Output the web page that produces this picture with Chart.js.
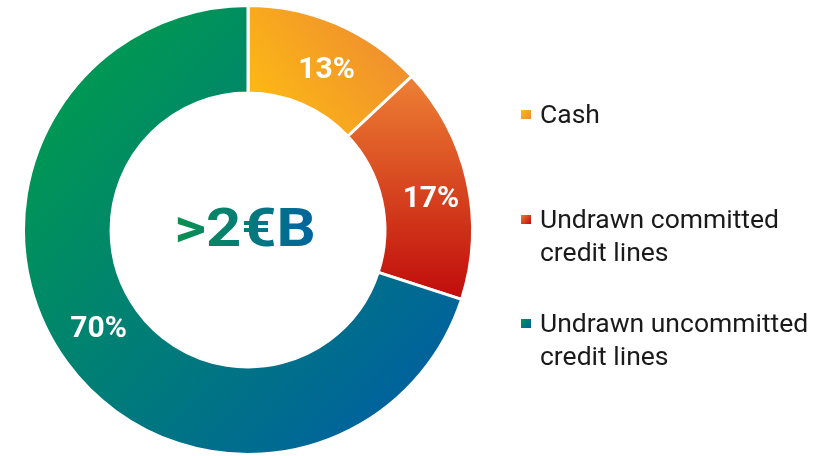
<!DOCTYPE html>
<html>
<head>
<meta charset="utf-8">
<script src="https://cdn.jsdelivr.net/npm/chart.js@4.4.1/dist/chart.umd.min.js"></script>
<style>
  html, body { margin: 0; padding: 0; background: #fff; }
  #wrap { width: 825px; height: 456px; position: relative; }
</style>
</head>
<body>
<div id="wrap"><canvas id="canvas1" width="825" height="456"></canvas></div>
<script>
var categories = [
  ["Cash"],
  ["Undrawn committed", "credit lines"],
  ["Undrawn uncommitted", "credit lines"]
];
var shares = [13, 17, 70];
var centerLabel = ">2€B";

// gradient stops per slice: [x0, y0, x1, y1, colour from, colour to]
var sliceGradients = [
  [265, 125, 400, 25, "#FDBA14", "#EE8A31"],
  [420, 85, 420, 300, "#EC7C33", "#C00B0B"],
  [90, 90, 430, 400, "#009655", "#0060A0"]
];

function makeGradient(ctx, g) {
  var grad = ctx.createLinearGradient(g[0], g[1], g[2], g[3]);
  grad.addColorStop(0, g[4]);
  grad.addColorStop(1, g[5]);
  return grad;
}

var labelsPlugin = {
  id: 'sliceLabels',
  afterDatasetsDraw: function(chart) {
    var ctx = chart.ctx;
    var meta = chart.getDatasetMeta(0);
    ctx.save();
    ctx.font = "bold 30px Roboto";
    ctx.fillStyle = "#ffffff";
    ctx.textAlign = "center";
    ctx.textBaseline = "middle";
    meta.data.forEach(function(arc, i) {
      // labels sit a little clockwise of each slice's middle
      var a = (arc.startAngle + arc.endAngle) / 2 + 0.047;
      var r = (arc.innerRadius + arc.outerRadius) / 2 + (i === 1 ? 5 : -2);
      ctx.fillText(shares[i] + "%", arc.x + Math.cos(a) * r, arc.y + Math.sin(a) * r + 1);
    });

    // centre figure, drawn a bit wide
    var cx = meta.data[0].x, cy = meta.data[0].y;
    ctx.save();
    ctx.translate(cx - 3, cy + 2);
    ctx.scale(1.14, 1);
    ctx.font = "bold 54px Roboto";
    var w = ctx.measureText(centerLabel).width;
    var tg = ctx.createLinearGradient(-w / 2, 0, w / 2, 0);
    tg.addColorStop(0, "#0A9150");
    tg.addColorStop(1, "#00649F");
    ctx.fillStyle = tg;
    ctx.fillText(centerLabel, 0, 0);
    ctx.restore();

    // legend
    ctx.textAlign = "left";
    ctx.textBaseline = "alphabetic";
    ctx.font = "26.5px Roboto";
    var rows = [123, 228, 332];
    categories.forEach(function(lines, i) {
      var y = rows[i];
      var sq = ctx.createLinearGradient(521, y - 13, 531, y - 4);
      sq.addColorStop(0, sliceGradients[i][4]);
      sq.addColorStop(1, sliceGradients[i][5]);
      ctx.fillStyle = sq;
      ctx.fillRect(521, y - 13, 10, 9);
      ctx.fillStyle = "#1a1a1a";
      lines.forEach(function(t, j) {
        ctx.fillText(t, 540, y + j * 32.5);
      });
    });
    ctx.restore();
  }
};

window.onload = function() {
  var ctx = document.getElementById("canvas1").getContext("2d");
  window.myDonut = new Chart(ctx, {
    type: 'doughnut',
    data: {
      labels: categories.map(function(l) { return l.join(" "); }),
      datasets: [{
        data: shares,
        backgroundColor: function(context) {
          return makeGradient(context.chart.ctx, sliceGradients[context.dataIndex]);
        },
        borderColor: "#ffffff",
        borderWidth: 3
      }]
    },
    options: {
      responsive: false,
      animation: false,
      cutout: '61%',
      events: [],
      layout: { padding: { left: 20, right: 349, top: 4, bottom: -4 } },
      plugins: {
        legend: { display: false },
        tooltip: { enabled: false }
      }
    },
    plugins: [labelsPlugin]
  });
};
</script>
</body>
</html>
